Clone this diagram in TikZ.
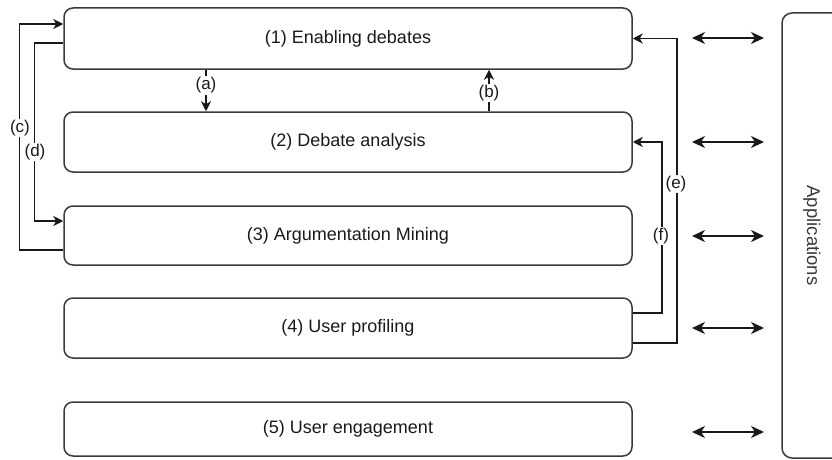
\documentclass[tikz,border=0pt]{standalone}
\usepackage{fontspec}
\setmainfont{Liberation Sans}
\usetikzlibrary{arrows.meta}
\definecolor{edge}{HTML}{3a3a3a}
\definecolor{txt}{HTML}{1a1a1a}
\begin{document}
\begin{tikzpicture}[x=1pt,y=-1pt,
  box/.style={draw=edge, line width=1.5pt, rounded corners=9pt, minimum width=568pt, inner sep=0pt,
    text=txt, font=\fontsize{18}{21}\selectfont},
  arr/.style={draw=black!90, line width=1.5pt, -{Stealth[length=10pt,width=10pt,inset=3pt]}},
  darr/.style={draw=black!90, line width=1.7pt, {Stealth[length=13pt,width=12pt,inset=4pt]}-{Stealth[length=13pt,width=12pt,inset=4pt]}},
  lbl/.style={fill=white, inner sep=1.2pt, text=txt, font=\fontsize{17}{19}\selectfont}]
\useasboundingbox (0,0) rectangle (832,460);
\node[box, minimum height=61pt] (b1) at (348,38.5) {(1) Enabling debates};
\node[box, minimum height=60pt] (b2) at (348,142) {(2) Debate analysis};
\node[box, minimum height=59pt] (b3) at (348,235.5) {(3) Argumentation Mining};
\node[box, minimum height=60pt] (b4) at (348,328) {(4) User profiling};
\node[box, minimum height=54pt] (b5) at (348,429) {(5) User engagement};
\node[draw=edge, line width=1.5pt, rounded corners=10pt, minimum width=60pt, minimum height=445pt] (app) at (812,235.5) {};
\node[rotate=-90, text=edge, font=\fontsize{18.5}{21}\selectfont] (applbl) at (app.center) {Applications};
% (a) and (b)
\coordinate (ax) at (206,0);
\coordinate (bx) at (489,0);
\draw[arr] (b1.south -| ax) -- (b2.north -| ax) node[lbl, pos=0.38] {(a)};
\draw[arr] (b2.north -| bx) -- (b1.south -| bx) node[lbl, pos=0.44] {(b)};
% (c) and (d)
\draw[arr] ([yshift=-14.5pt]b3.west) -- ++(-44,0) coordinate (c1) |- ([yshift=14.5pt]b1.west);
\node[lbl] (lc) at (20,128) {(c)};
\draw[arr] ([yshift=-4.5pt]b1.west) -- ++(-29,0) coordinate (d1) |- ([yshift=14.5pt]b3.west);
\node[lbl] (ld) at (35,152) {(d)};
% (e) and (f)
\draw[arr] ([yshift=15pt]b4.east) -- ++(29,0) coordinate (f1) |- (b2.east);
\node[lbl] (lf) at (661,236) {(f)};
\draw[arr] ([yshift=-15pt]b4.east) -- ++(44,0) coordinate (e1) |- (b1.east);
\node[lbl] (le) at (676,184) {(e)};
% double arrows
\foreach \y/\n in {38/1,142/2,236/3,328/4,432/5}{
  \coordinate (l\n) at (692,\y);
  \coordinate (r\n) at (764,\y);
  \draw[darr] (l\n) -- (r\n);
}
\end{tikzpicture}
\end{document}
